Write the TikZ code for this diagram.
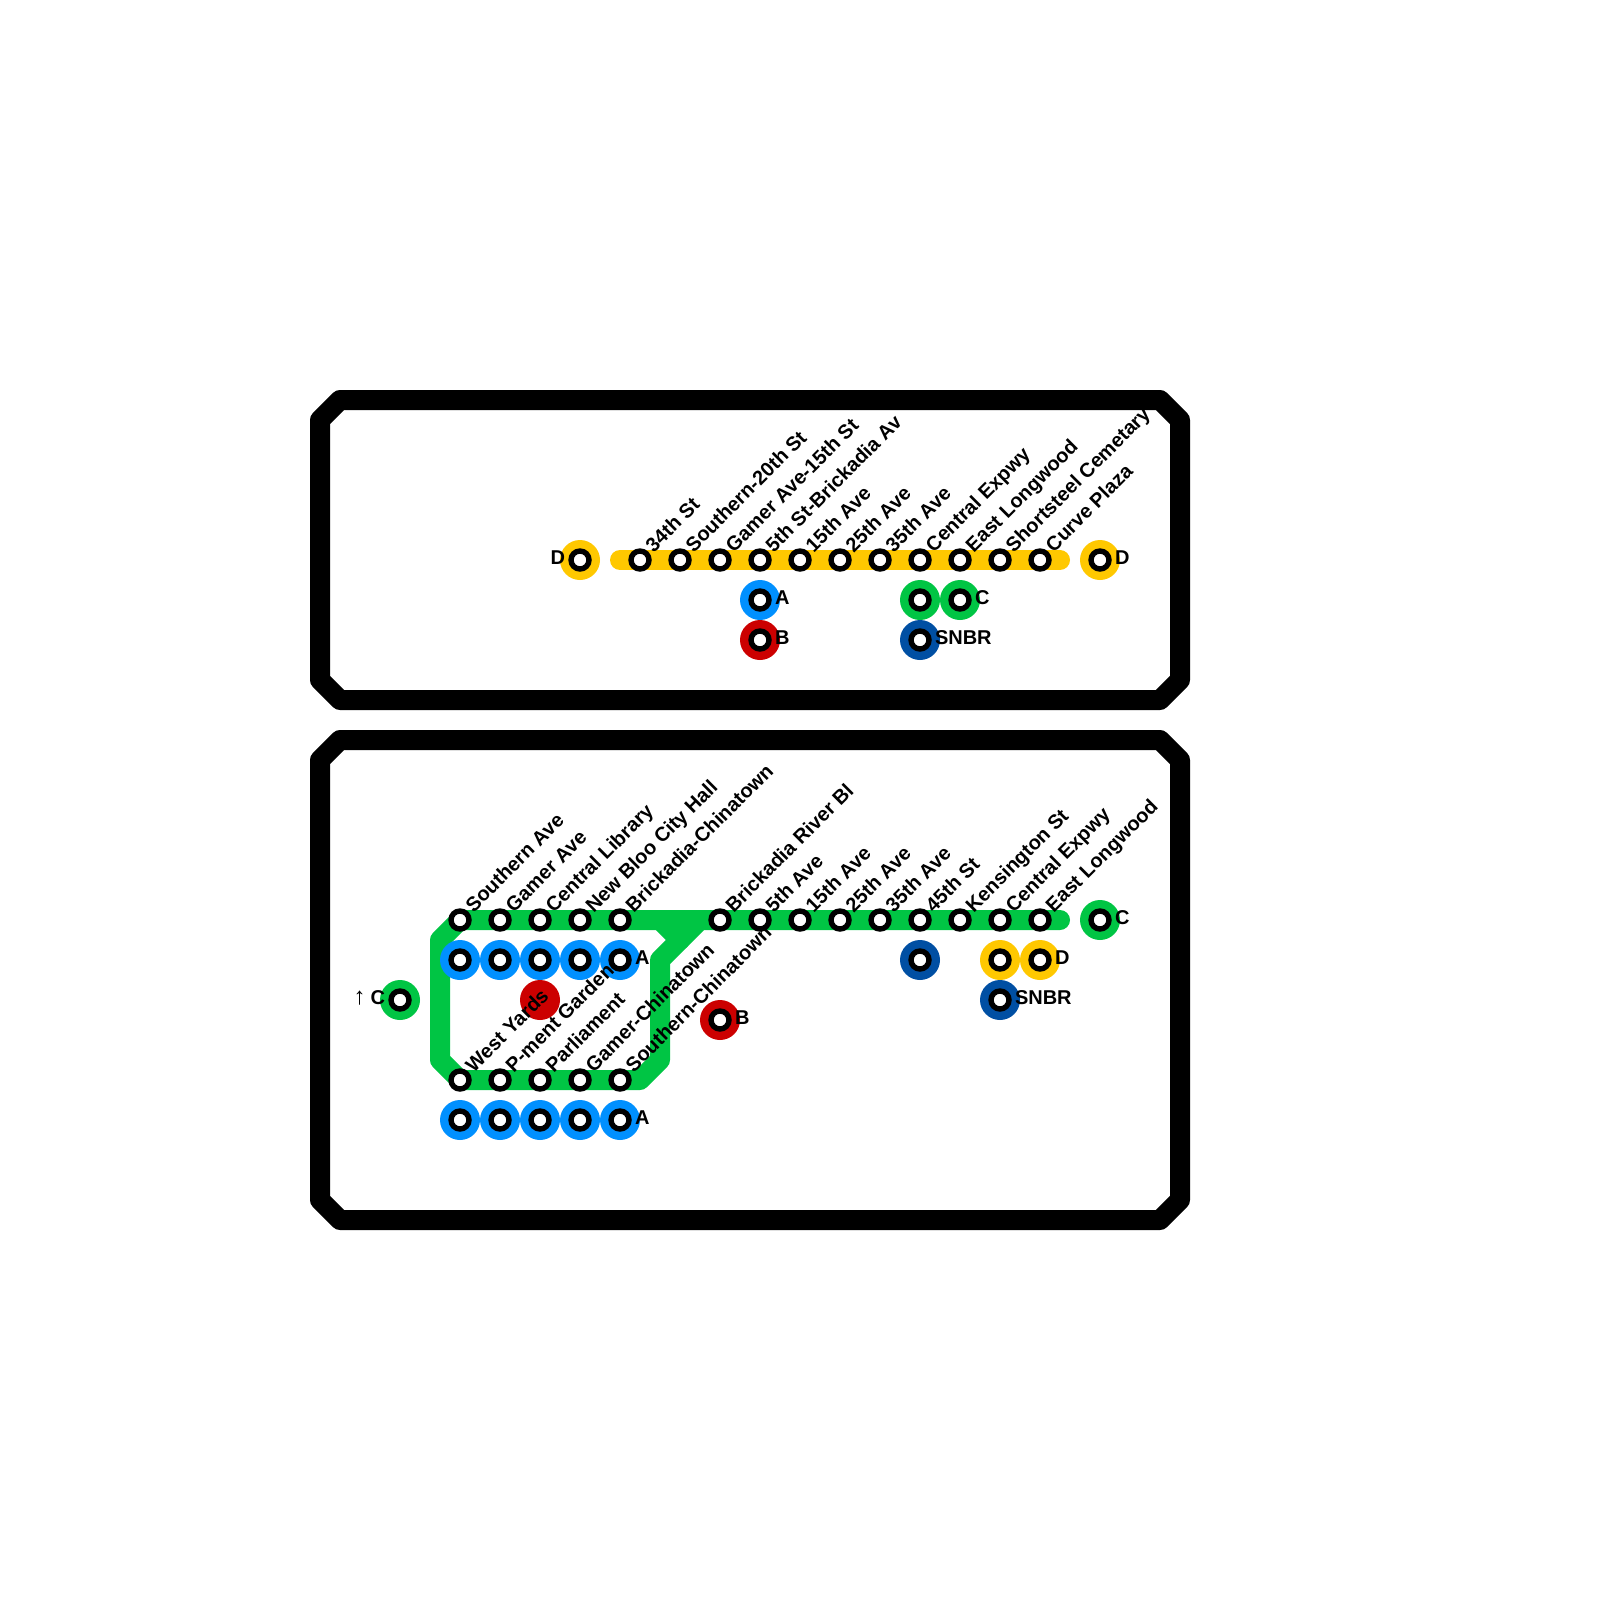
\documentclass[tikz,border=0pt]{standalone}
\usepackage{fontspec}
\setmainfont{Liberation Sans}
\definecolor{cy}{HTML}{FFC800}
\definecolor{cg}{HTML}{00C544}
\definecolor{cb}{HTML}{0090FF}
\definecolor{cr}{HTML}{CC0000}
\definecolor{cn}{HTML}{004FA3}
\tikzset{
  x=1pt,y=-1pt,
  framebox/.style={draw=black,line width=20pt,line join=round,line cap=round},
  route/.style={line width=20pt,line join=round,line cap=round},
  stn/.style={circle,draw=black,fill=white,line width=5.4pt,minimum size=18pt,inner sep=0pt,outer sep=0pt},
  hub/.style={circle,fill=#1,minimum size=40pt,inner sep=0pt,outer sep=0pt},
  lbl/.style={font=\fontsize{20}{20}\selectfont\bfseries,inner sep=0pt,outer sep=0pt},
  rlbl/.style={lbl,rotate=45,anchor=base west},
  slbl/.style={lbl,anchor=base west},
  elbl/.style={lbl,anchor=base east},
}
% \hubst{name}{x}{y}{colour}: coloured disc with a ring station
\newcommand{\hubst}[4]{\node[hub=#4] (h#1) at (#2,#3) {};\node[stn] (#1) at (#2,#3) {};}
\newcommand{\rl}[4]{\node[rlbl] (l#1) at (#2+13.8,#3-6.8) {#4};}
\begin{document}
\begin{tikzpicture}
\useasboundingbox (0,0) rectangle (1600,1600);
% frames
\draw[framebox] (340,400)--(1160,400)--(1180,420)--(1180,680)--(1160,700)--(340,700)--(320,680)--(320,420)--cycle;
\draw[framebox] (340,740)--(1160,740)--(1180,760)--(1180,1200)--(1160,1220)--(340,1220)--(320,1200)--(320,760)--cycle;
% routes
\coordinate (ya) at (620,560);\coordinate (yb) at (1060,560);
\draw[route,cy] (ya)--(yb);
\coordinate (ga) at (1060,920);\coordinate (gb) at (460,920);\coordinate (gc) at (440,940);
\coordinate (gd) at (440,1060);\coordinate (ge) at (460,1080);\coordinate (gf) at (640,1080);
\coordinate (gg) at (660,1060);\coordinate (gh) at (660,960);\coordinate (gi) at (700,920);
\coordinate (gj) at (660,920);\coordinate (gk) at (680,940);
\draw[route,cg] (ga)--(gb)--(gc)--(gd)--(ge)--(gf)--(gg)--(gh)--(gi);
\draw[route,cg] (gj)--(gk);
% hubs, top
\hubst{tdl}{580}{560}{cy}\hubst{tdr}{1100}{560}{cy}
\hubst{ta}{760}{600}{cb}\hubst{tb}{760}{640}{cr}
\hubst{tc1}{920}{600}{cg}\hubst{tc2}{960}{600}{cg}\hubst{ts}{920}{640}{cn}
% hubs, bottom
\foreach \x in {460,500,540,580,620}{\hubst{ba\x}{\x}{960}{cb}\hubst{bc\x}{\x}{1120}{cb}}
\node[hub=cr] (bred) at (540,1000) {};
\hubst{bb}{720}{1020}{cr}\hubst{bs1}{920}{960}{cn}
\hubst{by1}{1000}{960}{cy}\hubst{by2}{1040}{960}{cy}\hubst{bs2}{1000}{1000}{cn}
\hubst{bcl}{400}{1000}{cg}\hubst{bcr}{1100}{920}{cg}
% stations
\foreach \x in {640,680,...,1040}{\node[stn] (t\x) at (\x,560) {};}
\foreach \x in {460,500,540,580,620,720,760,800,840,880,920,960,1000,1040}{\node[stn] (m\x) at (\x,920) {};}
\foreach \x in {460,500,540,580,620}{\node[stn] (s\x) at (\x,1080) {};}
% rotated labels
\rl{t1}{640}{560}{34th St}
\rl{t2}{680}{560}{Southern-20th St}
\rl{t3}{720}{560}{Gamer Ave-15th St}
\rl{t4}{760}{560}{5th St-Brickadia Av}
\rl{t5}{800}{560}{15th Ave}
\rl{t6}{840}{560}{25th Ave}
\rl{t7}{880}{560}{35th Ave}
\rl{t8}{920}{560}{Central Expwy}
\rl{t9}{960}{560}{East Longwood}
\rl{t10}{1000}{560}{Shortsteel Cemetary}
\rl{t11}{1040}{560}{Curve Plaza}
\rl{m1}{460}{920}{Southern Ave}
\rl{m2}{500}{920}{Gamer Ave}
\rl{m3}{540}{920}{Central Library}
\rl{m4}{580}{920}{New Bloo City Hall}
\rl{m5}{620}{920}{Brickadia-Chinatown}
\rl{m6}{720}{920}{Brickadia River Bl}
\rl{m7}{760}{920}{5th Ave}
\rl{m8}{800}{920}{15th Ave}
\rl{m9}{840}{920}{25th Ave}
\rl{m10}{880}{920}{35th Ave}
\rl{m11}{920}{920}{45th St}
\rl{m12}{960}{920}{Kensington St}
\rl{m13}{1000}{920}{Central Expwy}
\rl{m14}{1040}{920}{East Longwood}
\rl{s1}{460}{1080}{West Yards}
\rl{s2}{500}{1080}{P-ment Garden}
\rl{s3}{540}{1080}{Parliament}
\rl{s4}{580}{1080}{Gamer-Chinatown}
\rl{s5}{620}{1080}{Southern-Chinatown}
% line letters
\node[elbl] (ld1) at (565,564) {D};
\node[slbl] (ld2) at (1115,564) {D};
\node[slbl] (la1) at (775,604) {A};
\node[slbl] (lb1) at (775,644) {B};
\node[slbl] (lc1) at (975,604) {C};
\node[slbl] (lsn1) at (935,644) {SNBR};
\node[slbl] (la2) at (635,964) {A};
\node[slbl] (la3) at (635,1124) {A};
\node[slbl] (lb2) at (735,1024) {B};
\node[slbl] (ld3) at (1055,964) {D};
\node[slbl] (lsn2) at (1015,1004) {SNBR};
\node[slbl] (lc2) at (1115,924) {C};
\node[elbl] (lc3) at (385,1004) {{\mdseries\fontsize{24}{24}\selectfont ↑}\kern5pt C};
\end{tikzpicture}
\end{document}
